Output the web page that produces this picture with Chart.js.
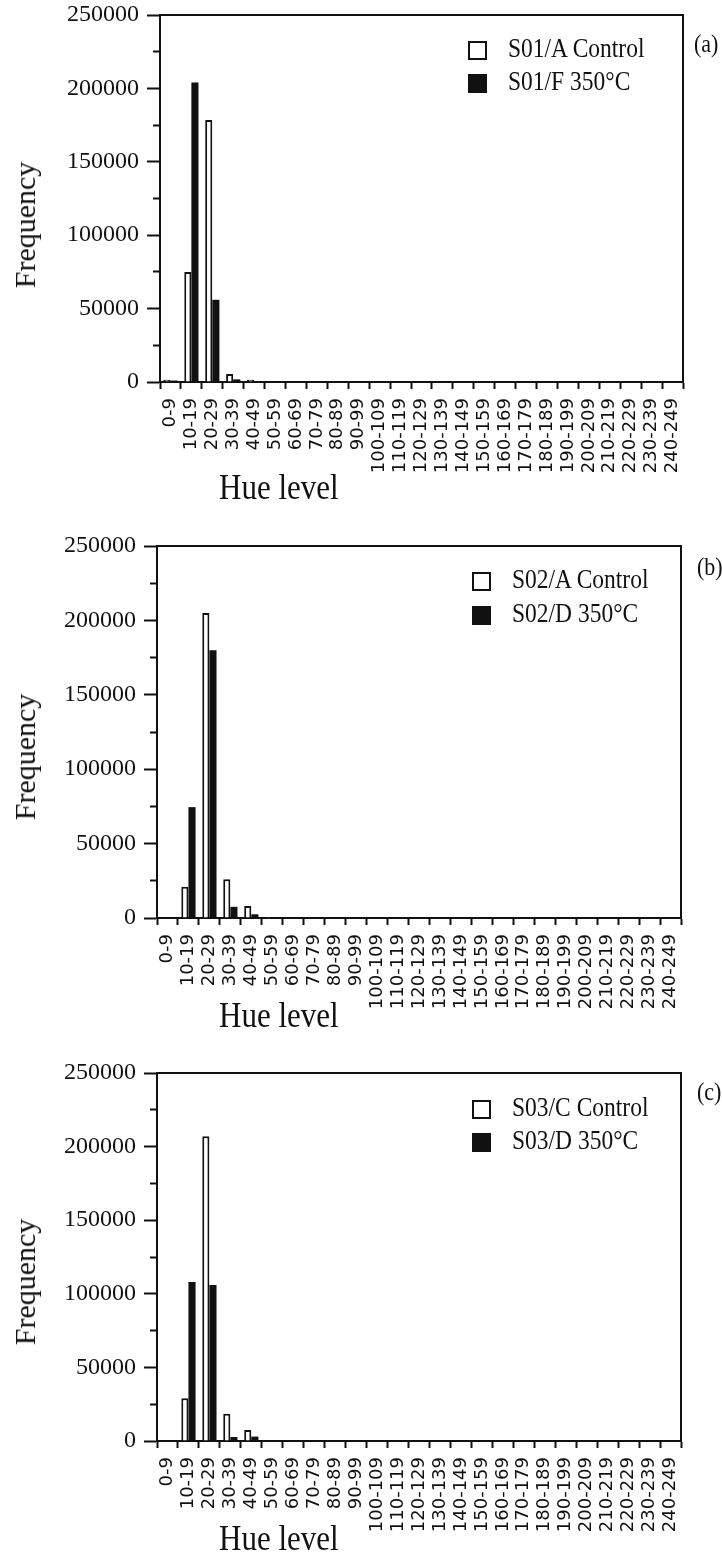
<!DOCTYPE html>
<html>
<head>
<meta charset="utf-8">
<script src="https://cdn.jsdelivr.net/npm/chart.js@4.4.0/dist/chart.umd.min.js"></script>
<style>
  html, body { margin: 0; padding: 0; background: #fff; }
  body { width: 722px; height: 1562px; position: relative; overflow: hidden; }
  .panel { position: absolute; left: 0; width: 722px; }
  .txt { position: absolute; font-family: "Liberation Serif", "Times New Roman", serif; color: #111; white-space: nowrap; line-height: 1; }
  .tall { transform: scaleY(1.15); transform-origin: 0 83.7%; }
  .box { position: absolute; width: 15px; height: 15px; border: 2px solid #111; background: #fff; }
  .box.fill { background: #111; }
</style>
</head>
<body>
<div class="panel" style="top:-10px"><canvas id="chartA" width="722" height="525"></canvas></div>
<div class="panel" style="top:520px"><canvas id="chartB" width="722" height="520"></canvas></div>
<div class="panel" style="top:1045px"><canvas id="chartC" width="722" height="517"></canvas></div>

<script>
// hue level bins (x categories)
const hueLevels = [
  '0-9', '10-19', '20-29', '30-39', '40-49', '50-59', '60-69', '70-79', '80-89', '90-99',
  '100-109', '110-119', '120-129', '130-139', '140-149', '150-159', '160-169', '170-179',
  '180-189', '190-199', '200-209', '210-219', '220-229', '230-239', '240-249'
];

// (a) S01
const controlA = [1500, 75000, 178500, 5400, 1500, 0, 0, 0, 0, 0, 0, 0, 0, 0, 0, 0, 0, 0, 0, 0, 0, 0, 0, 0, 0];
const heatedA  = [1000, 204000, 56000, 1800, 600, 0, 0, 0, 0, 0, 0, 0, 0, 0, 0, 0, 0, 0, 0, 0, 0, 0, 0, 0, 0];
// (b) S02
const controlB = [0, 21000, 205000, 26000, 8000, 600, 0, 0, 0, 0, 0, 0, 0, 0, 0, 0, 0, 0, 0, 0, 0, 0, 0, 0, 0];
const heatedB  = [0, 74500, 180000, 7500, 2500, 300, 0, 0, 0, 0, 0, 0, 0, 0, 0, 0, 0, 0, 0, 0, 0, 0, 0, 0, 0];
// (c) S03
const controlC = [0, 29000, 207000, 18500, 7500, 0, 0, 0, 0, 0, 0, 0, 0, 0, 0, 0, 0, 0, 0, 0, 0, 0, 0, 0, 0];
const heatedC  = [0, 108000, 106000, 2700, 3000, 500, 0, 0, 0, 0, 0, 0, 0, 0, 0, 0, 0, 0, 0, 0, 0, 0, 0, 0, 0];

const legendA = ['S01/A Control', 'S01/F 350°C'];
const legendB = ['S02/A Control', 'S02/D 350°C'];
const legendC = ['S03/C Control', 'S03/D 350°C'];

const yMax = 250000;
const yMajor = 50000;
const yMinor = 25000;

const INK = '#111';

function makeChart(id, control, heated, names, geo) {
  const canvas = document.getElementById(id);
  return new Chart(canvas, {
    type: 'bar',
    data: {
      labels: hueLevels,
      datasets: [
        {
          label: names[0],
          data: control,
          backgroundColor: '#fff',
          borderColor: INK,
          borderWidth: 2,
          categoryPercentage: 0.68,
          barPercentage: 1.0,
        },
        {
          label: names[1],
          data: heated,
          backgroundColor: INK,
          borderWidth: 0,
          categoryPercentage: 0.68,
          barPercentage: 1.0,
        },
      ],
    },
    options: {
      responsive: false,
      animation: false,
      events: [],
      layout: { padding: { left: 0, top: geo.top, right: 722 - geo.right, bottom: 0 } },
      plugins: { legend: { display: false }, tooltip: { enabled: false } },
      scales: {
        x: {
          type: 'category',
          position: 'bottom',
          grid: { display: true, drawOnChartArea: false, offset: true, tickLength: 7, tickWidth: 2, tickColor: INK },
          border: { display: true, color: INK, width: 2 },
          ticks: {
            autoSkip: false,
            minRotation: 90,
            maxRotation: 90,
            padding: 9,
            color: INK,
            font: { family: '"DejaVu Sans", sans-serif', size: 18 },
          },
          afterFit: (s) => { s.height = geo.height - geo.bottom; },
        },
        y: {
          type: 'linear',
          position: 'left',
          min: 0,
          max: yMax,
          grid: {
            display: true,
            drawOnChartArea: false,
            tickLength: 13,
            tickWidth: 2,
            tickColor: INK,
            tickBorderDash: (ctx) => (ctx.tick && ctx.tick.value % yMajor ? [0, 6, 8, 60] : []),
          },
          border: { display: true, color: INK, width: 2 },
          ticks: {
            stepSize: yMinor,
            padding: 8,
            color: INK,
            font: { family: '"Liberation Serif", serif', size: 24 },
            callback: (v) => (v % yMajor === 0 ? String(v) : ''),
          },
          afterFit: (s) => { s.width = geo.left; },
        },
        x2: {
          type: 'linear',
          position: 'top',
          grid: { display: false },
          ticks: { display: false },
          border: { display: true, color: INK, width: 2 },
          afterFit: (s) => { s.height = 0; },
        },
        y2: {
          type: 'linear',
          position: 'right',
          grid: { display: false },
          ticks: { display: false },
          border: { display: true, color: INK, width: 2 },
          afterFit: (s) => { s.width = 0; },
        },
      },
    },
  });
}

// overlay texts (legend, axis titles, panel letters)
function addText(str, left, baseline, size, tall) {
  const d = document.createElement('div');
  d.className = 'txt' + (tall ? ' tall' : '');
  d.textContent = str;
  d.style.fontSize = size + 'px';
  d.style.left = left + 'px';
  d.style.top = (baseline - 0.837 * size) + 'px';
  document.body.appendChild(d);
}

function addRotated(str, cx, cy, size) {
  const d = document.createElement('div');
  d.className = 'txt';
  d.textContent = str;
  d.style.fontSize = size + 'px';
  d.style.left = cx + 'px';
  d.style.top = cy + 'px';
  d.style.transform = 'translate(-50%, -50%) rotate(-90deg)';
  document.body.appendChild(d);
}

function addBox(left, top, filled) {
  const d = document.createElement('div');
  d.className = 'box' + (filled ? ' fill' : '');
  d.style.left = left + 'px';
  d.style.top = top + 'px';
  document.body.appendChild(d);
}

function addLegend(names, boxLeft, textLeft, base1, base2) {
  addBox(boxLeft, base1 - 17, false);
  addText(names[0], textLeft, base1, 23.5, true);
  addBox(boxLeft, base2 - 17, true);
  addText(names[1], textLeft, base2, 23.5, true);
}

makeChart('chartA', controlA, heatedA, legendA, { top: 25, bottom: 392, left: 160, right: 683, height: 525 });
makeChart('chartB', controlB, heatedB, legendB, { top: 26, bottom: 398, left: 157, right: 681, height: 520 });
makeChart('chartC', controlC, heatedC, legendC, { top: 28, bottom: 396, left: 157, right: 681, height: 517 });

addLegend(legendA, 468, 508, 58, 91);
addLegend(legendB, 472, 512, 589, 623);
addLegend(legendC, 472, 512, 1117, 1150);

addText('(a)', 694, 52, 22, true);
addText('(b)', 697, 575, 22, true);
addText('(c)', 697, 1100, 22, true);

addRotated('Frequency', 25, 225, 30);
addRotated('Frequency', 25, 757, 30);
addRotated('Frequency', 25, 1282, 30);

addText('Hue level', 219, 499, 31, true);
addText('Hue level', 219, 1027, 31, true);
addText('Hue level', 219, 1550, 31, true);
</script>
</body>
</html>
